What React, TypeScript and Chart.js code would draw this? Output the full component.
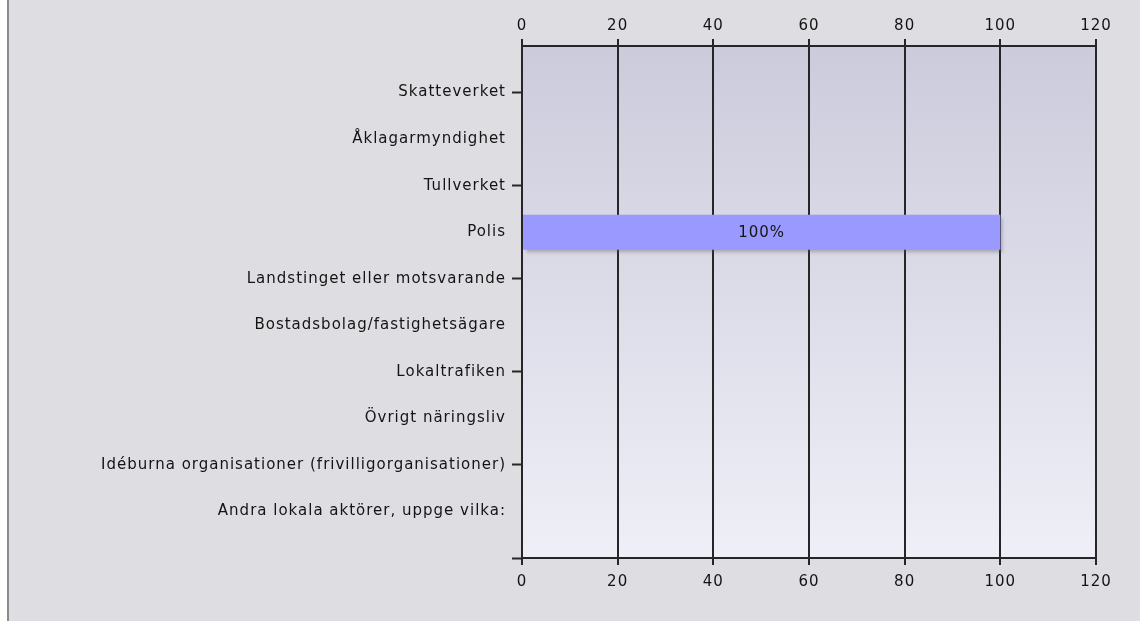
import React, { useEffect, useRef } from 'react';
import { Chart, registerables } from 'chart.js';

Chart.register(...registerables);

const categories: string[] = [
  '',
  'Skatteverket',
  'Åklagarmyndighet',
  'Tullverket',
  'Polis',
  'Landstinget eller motsvarande',
  'Bostadsbolag/fastighetsägare',
  'Lokaltrafiken',
  'Övrigt näringsliv',
  'Idéburna organisationer (frivilligorganisationer)',
  'Andra lokala aktörer, uppge vilka:',
  '',
];
const values: (number | null)[] = [null, 0, 0, 0, 100, 0, 0, 0, 0, 0, 0, null];
const xMin = 0;
const xMax = 120;
const xStep = 20;

const FONT = "'DejaVu Sans', Verdana, sans-serif";
const TEXT = '#141414';
const LINE = '#262626';

const stylePlugin = {
  id: 'stylePlugin',
  beforeDraw(chart: any) {
    const { ctx, chartArea } = chart;
    ctx.letterSpacing = '1px';
    const g = ctx.createLinearGradient(0, chartArea.top, 0, chartArea.bottom);
    g.addColorStop(0, '#cbcbdc');
    g.addColorStop(1, '#efeff7');
    ctx.save();
    ctx.fillStyle = g;
    ctx.fillRect(chartArea.left, chartArea.top, chartArea.right - chartArea.left, chartArea.bottom - chartArea.top);
    ctx.restore();
  },
  beforeDatasetsDraw(chart: any) {
    const ctx = chart.ctx;
    ctx.save();
    ctx.shadowColor = 'rgba(90,90,100,0.35)';
    ctx.shadowOffsetX = 3;
    ctx.shadowOffsetY = 3;
    ctx.shadowBlur = 3;
  },
  afterDatasetsDraw(chart: any) {
    const ctx = chart.ctx;
    ctx.restore();
    const meta = chart.getDatasetMeta(0);
    ctx.save();
    ctx.letterSpacing = '1px';
    ctx.font = `15px ${FONT}`;
    ctx.fillStyle = TEXT;
    ctx.textAlign = 'center';
    ctx.textBaseline = 'middle';
    meta.data.forEach((el: any, i: number) => {
      const v = values[i];
      if (v == null || v <= 0) return;
      const { x, base, y } = el.getProps(['x', 'base', 'y'], true);
      ctx.fillText(`${v}%`, (x + base) / 2, y + 1);
    });
    ctx.restore();
  },
};

export default function App() {
  const ref = useRef<HTMLCanvasElement>(null);
  useEffect(() => {
    const canvas = ref.current!;
    const chart = new Chart(canvas, {
      type: 'bar',
      data: {
        labels: categories,
        datasets: [
          {
            data: values as any,
            backgroundColor: '#9999ff',
            borderWidth: 0,
            barPercentage: 0.75,
            categoryPercentage: 1,
            xAxisID: 'x',
            yAxisID: 'y',
          },
        ],
      },
      options: {
        indexAxis: 'y',
        responsive: false,
        animation: false,
        layout: { padding: { left: 0, right: 44, top: 0, bottom: 0 } },
        plugins: { legend: { display: false }, tooltip: { enabled: false } },
        scales: {
          y: {
            type: 'category',
            position: 'left',
            offset: false,
            afterFit: (s: any) => { s.width = 513; },
            ticks: {
              autoSkip: false,
              padding: 6,
              color: TEXT,
              font: { family: FONT, size: 15 },
            },
            grid: {
              offset: false,
              drawOnChartArea: false,
              drawTicks: true,
              tickLength: 10,
              tickWidth: 2,
              tickColor: (c: any) => (c.index % 2 === 1 ? LINE : 'rgba(0,0,0,0)'),
            },
            border: { display: true, color: LINE, width: 2 },
          },
          x: {
            type: 'linear',
            position: 'bottom',
            min: xMin,
            max: xMax,
            afterFit: (s: any) => { s.height = 63; },
            ticks: {
              stepSize: xStep,
              padding: 8,
              color: TEXT,
              font: { family: FONT, size: 15 },
            },
            grid: {
              drawOnChartArea: true,
              drawTicks: true,
              tickLength: 7,
              color: LINE,
              lineWidth: 2,
            },
            border: { display: true, color: LINE, width: 2 },
          },
          x2: {
            type: 'linear',
            position: 'top',
            min: xMin,
            max: xMax,
            afterFit: (s: any) => { s.height = 46; },
            ticks: {
              stepSize: xStep,
              padding: 4,
              color: TEXT,
              font: { family: FONT, size: 15 },
            },
            grid: {
              drawOnChartArea: false,
              drawTicks: true,
              tickLength: 7,
              color: LINE,
              lineWidth: 2,
            },
            border: { display: true, color: LINE, width: 2 },
          },
        },
      },
      plugins: [stylePlugin],
    });
    return () => chart.destroy();
  }, []);

  return (
    <div style={{ position: 'fixed', left: 0, top: 0, width: 1140, height: 621, background: '#ffffff' }}>
      <div
        style={{
          position: 'absolute',
          left: 7,
          top: 0,
          width: 1131,
          height: 621,
          borderLeft: '2px solid #8a8a86',
          background: '#dedde2',
        }}
      >
        <canvas ref={ref} width={1131} height={621} style={{ display: 'block' }} />
      </div>
    </div>
  );
}
